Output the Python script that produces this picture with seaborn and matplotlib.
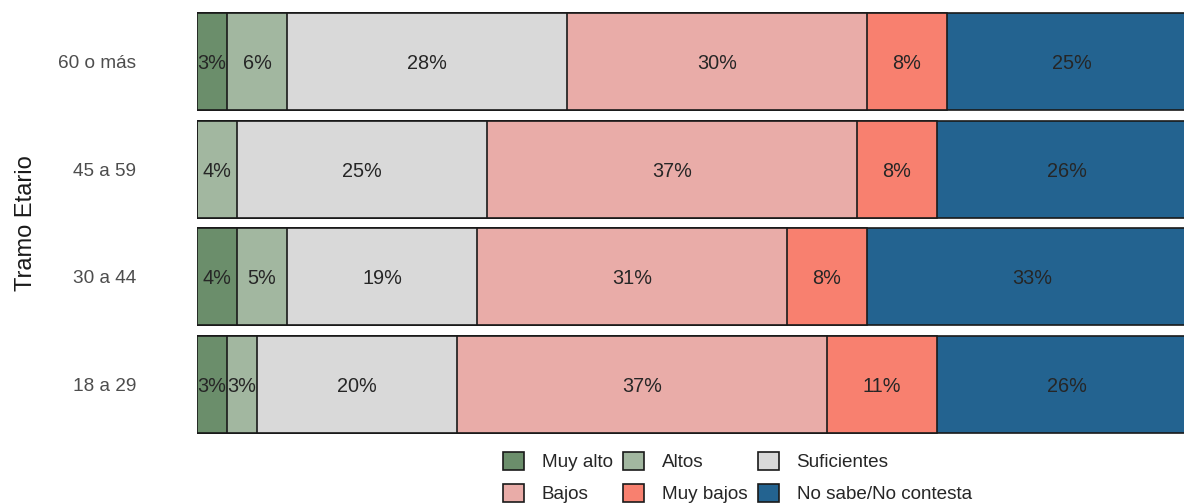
import matplotlib.pyplot as plt
import pandas as pd
import seaborn as sns
from matplotlib.patches import Patch

tramos = ['60 o más', '45 a 59', '30 a 44', '18 a 29']
categorias = ['Muy alto', 'Altos', 'Suficientes', 'Bajos', 'Muy bajos', 'No sabe/No contesta']
colores = ['#6b8e6b', '#a2b7a0', '#d9d9d9', '#e9aca8', '#f8806f', '#236390']

muy_alto = [3, 0, 4, 3]
altos = [6, 4, 5, 3]
suficientes = [28, 25, 19, 20]
bajos = [30, 37, 31, 37]
muy_bajos = [8, 8, 8, 11]
no_sabe = [25, 26, 33, 26]

df = pd.DataFrame({
    'tramo': tramos,
    'Muy alto': muy_alto,
    'Altos': altos,
    'Suficientes': suficientes,
    'Bajos': bajos,
    'Muy bajos': muy_bajos,
    'No sabe/No contesta': no_sabe,
})

sns.set_style('white')
plt.rcParams['font.family'] = ['Liberation Sans', 'DejaVu Sans']

fig = plt.figure(figsize=(11.84, 5.04), dpi=100)
ax = fig.add_axes([197 / 1184, (504 - 438) / 504, 1000 / 1184, 430 / 504])

# stacked bars: draw cumulative totals from the largest down
cum = df[categorias].cumsum(axis=1)
for cat, color in reversed(list(zip(categorias, colores))):
    sns.barplot(x=cum[cat], y=df['tramo'], order=tramos, orient='h', color=color,
                edgecolor='#1a1a1a', linewidth=1.2, width=0.9, ax=ax, saturation=1)

for i, row in df.iterrows():
    left = 0
    for cat in categorias:
        v = row[cat]
        if v > 0:
            ax.text(left + v / 2, i + 0.02, f'{v}%', ha='center', va='center',
                    fontsize=14.3, color='#262626')
        left += v

ax.set_xlim(0, 100)
ax.set_ylim(3.5, -0.5)
ax.set_xticks([])
ax.set_xlabel('')
ax.set_ylabel('Tramo Etario', fontsize=17, color='#1a1a1a')
ax.yaxis.set_label_coords(-0.16, 0.5)
ax.tick_params(axis='y', length=0, pad=44, labelsize=13.7, labelcolor='#4d4d4d')
sns.despine(ax=ax, left=True, bottom=True)

handles = [Patch(facecolor=c, edgecolor='#1a1a1a', linewidth=1.2, label=l)
           for l, c in zip(categorias, colores)]
order = [0, 3, 1, 4, 2, 5]
fig.legend([handles[k] for k in order], [categorias[k] for k in order],
           loc='upper left', bbox_to_anchor=(503 / 1184, (504 - 452) / 504),
           ncol=3, frameon=False, fontsize=13.6, handlelength=1.1, handleheight=1.1,
           handletextpad=0.95, columnspacing=0.55, labelspacing=0.65, borderpad=0,
           borderaxespad=0)

fig.savefig('out.png', dpi=100)
